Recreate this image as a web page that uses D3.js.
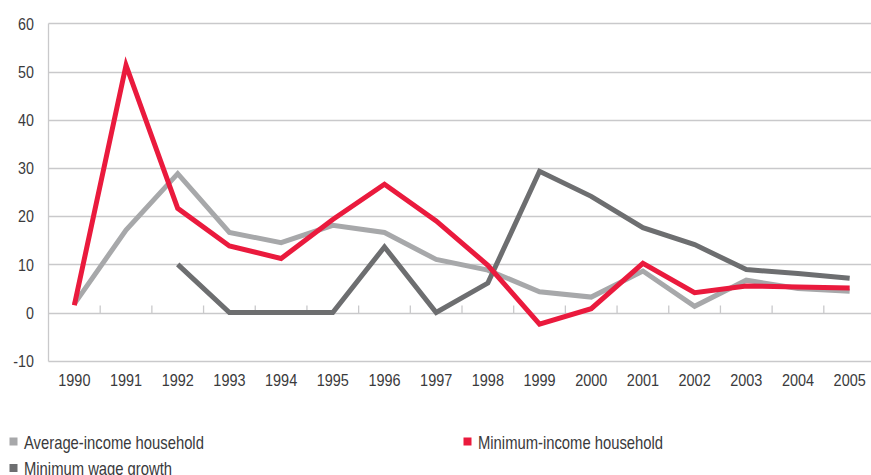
<!DOCTYPE html>
<html>
<head>
<meta charset="utf-8">
<script src="https://cdn.jsdelivr.net/npm/d3@7"></script>
<style>
  html, body { margin: 0; padding: 0; background: #fff; }
  svg { display: block; }
  text { font-family: "Liberation Sans", Arial, sans-serif; fill: #3a3a3c; }
</style>
</head>
<body>
<svg id="chart" width="871" height="475"></svg>
<script>
const years = ["1990","1991","1992","1993","1994","1995","1996","1997","1998","1999","2000","2001","2002","2003","2004","2005"];
const yTicks = [-10, 0, 10, 20, 30, 40, 50, 60];

const averageIncome = [1.8, 17.1, 28.8, 16.6, 14.5, 18.1, 16.6, 11.0, 8.8, 4.3, 3.2, 8.6, 1.3, 6.7, 5.0, 4.4];
const minimumIncome = [1.5, 51.3, 21.6, 13.8, 11.2, 19.3, 26.6, 19.0, 9.8, -2.4, 0.8, 10.2, 4.1, 5.5, 5.3, 5.1];
const minimumWage   = [null, null, 10.0, 0, 0, 0, 13.6, 0, 6.1, 29.3, 24.1, 17.6, 14.1, 8.9, 8.1, 7.1];

const seriesNames  = ["Average-income household", "Minimum-income household", "Minimum wage growth"];
const seriesColors = ["#a7a8aa", "#ea1a3d", "#6d6e70"];

const svg = d3.select("#chart");

const x = d3.scaleBand().domain(years).range([48.5, 875.5]).padding(0);
const y = d3.scaleLinear().domain([-10, 60]).range([360.7, 23.3]);

// condensed text: place at (px, py) and squeeze horizontally
function condensedText(parent, px, py, str, size, sx, anchor) {
  return parent.append("text")
    .attr("transform", `translate(${px},${py}) scale(${sx},1)`)
    .attr("font-size", size)
    .attr("text-anchor", anchor)
    .text(str);
}

// horizontal gridlines
svg.append("g")
  .selectAll("line")
  .data(yTicks)
  .join("line")
  .attr("x1", 48.5).attr("x2", 871)
  .attr("y1", d => Math.round(y(d)) + 0.5).attr("y2", d => Math.round(y(d)) + 0.5)
  .attr("stroke", "#c9c9cb").attr("stroke-width", 1.3);

// vertical axis line
svg.append("line")
  .attr("x1", 48.5).attr("x2", 48.5)
  .attr("y1", Math.round(y(60)) + 0.5).attr("y2", Math.round(y(-10)) + 0.5)
  .attr("stroke", "#c9c9cb").attr("stroke-width", 1.3);

// category ticks on the zero line
const boundaries = years.slice(1).map(yr => x(yr));
svg.append("g")
  .selectAll("line")
  .data(boundaries)
  .join("line")
  .attr("x1", d => d).attr("x2", d => d)
  .attr("y1", Math.round(y(0)) + 0.5).attr("y2", Math.round(y(0)) - 7.5)
  .attr("stroke", "#c9c9cb").attr("stroke-width", 1.3);

// y labels
const yLab = svg.append("g");
yTicks.forEach(d => condensedText(yLab, 34, y(d) + 6.2, d, 17, 0.84, "end"));

// x labels
const xLab = svg.append("g");
years.forEach(d => condensedText(xLab, x(d) + x.bandwidth() / 2, 386, d, 17, 0.85, "middle"));

// lines
const line = d3.line()
  .defined(d => d.v !== null)
  .x(d => x(d.year) + x.bandwidth() / 2)
  .y(d => y(d.v));

const allSeries = [averageIncome, minimumIncome, minimumWage];
const drawOrder = [0, 2, 1];
drawOrder.forEach(i => {
  const pts = years.map((yr, j) => ({ year: yr, v: allSeries[i][j] }));
  svg.append("path")
    .datum(pts)
    .attr("d", line)
    .attr("fill", "none")
    .attr("stroke", seriesColors[i])
    .attr("stroke-width", 5)
    .attr("stroke-linejoin", "miter")
    .attr("stroke-linecap", "butt");
});

// legend
const legendPos = [[9.5, 437.5], [463.5, 437.5], [9.5, 464]];
seriesNames.forEach((name, i) => {
  const g = svg.append("g").attr("transform", `translate(${legendPos[i][0]},${legendPos[i][1]})`);
  g.append("rect").attr("x", 0).attr("y", 0).attr("width", 8).attr("height", 8).attr("fill", seriesColors[i]);
  condensedText(g, 14.5, 11, name, 18.5, 0.8, "start");
});
</script>
</body>
</html>
